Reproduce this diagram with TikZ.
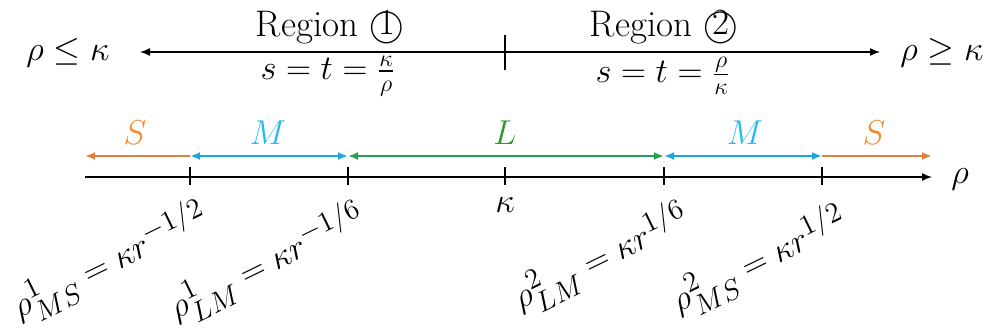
\documentclass[tikz,border=0pt]{standalone}
\usepackage{amsmath}
\usetikzlibrary{arrows.meta}
\definecolor{cS}{HTML}{E47E3C}
\definecolor{cSt}{HTML}{F28A2E}
\definecolor{cM}{HTML}{1BA5E4}
\definecolor{cMt}{HTML}{22BBEE}
\definecolor{cL}{HTML}{22A050}
\definecolor{cLt}{HTML}{2C9A2C}
\tikzset{
  tip/.style={-{Latex[length=5pt,width=4pt]}},
  twotip/.style={{Latex[length=5pt,width=4pt]}-{Latex[length=5pt,width=4pt]}},
  band/.style={line width=1pt},
  lbl/.style={font=\fontsize{18.5}{22}\selectfont, inner sep=1pt},
  flbl/.style={font=\fontsize{17.5}{21}\selectfont, inner sep=1pt},
  rlbl/.style={font=\fontsize{19}{23}\selectfont, inner sep=1pt, rotate=26, anchor=north east},
}
\begin{document}
\begin{tikzpicture}[x=0.5pt,y=-0.5pt]
\useasboundingbox (0,0) rectangle (997,333);
% top arrow
\coordinate (tl) at (140,52);
\coordinate (tr) at (880,52);
\coordinate (tmt) at (505,35);
\coordinate (tmb) at (505,70);
\draw[line width=0.7pt,tip] (505,52) -- (tl);
\draw[line width=0.7pt,tip] (505,52) -- (tr);
\draw[line width=0.7pt] (tmt) -- (tmb);
\node[lbl] (le) at (68,53) {$\rho \le \kappa$};
\node[lbl] (ge) at (942,53) {$\rho \ge \kappa$};
\node[lbl,anchor=base] (r1) at (330,36) {Region \textcircled{1}};
\node[lbl,anchor=base] (r2) at (664,36) {Region \textcircled{2}};
\node[flbl] (f1) at (328,76) {$s=t=\frac{\kappa}{\rho}$};
\node[flbl] (f2) at (663,76) {$s=t=\frac{\rho}{\kappa}$};
% axis
\coordinate (a0) at (85,177);
\coordinate (a1) at (932,177);
\draw[line width=0.7pt,tip] (a0) -- (a1);
\node[lbl] (rho) at (960,179) {$\rho$};
\foreach \n/\x in {t1/190,t2/348,t3/505,t4/664,t5/822}{
  \coordinate (\n) at (\x,177);
  \draw[line width=0.7pt] (\x,167) -- (\x,185);
}
% bands
\coordinate (b0) at (85,156);
\coordinate (b1) at (190,156);
\coordinate (b2) at (348,156);
\coordinate (b3) at (664,156);
\coordinate (b4) at (822,156);
\coordinate (b5) at (932,156);
\draw[band,cS,tip] (b1) -- (b0);
\draw[band,cM,twotip] (b1) -- (b2);
\draw[band,cL,twotip] (b2) -- (b3);
\draw[band,cM,twotip] (b3) -- (b4);
\draw[band,cS,tip] (b4) -- (b5);
\node[lbl,text=cSt] (sl) at (135,133) {$S$};
\node[lbl,text=cMt] (ml) at (268,133) {$M$};
\node[lbl,text=cLt] (ll) at (505,133) {$L$};
\node[lbl,text=cMt] (mr) at (745,133) {$M$};
\node[lbl,text=cSt] (sr) at (874,133) {$S$};
% tick labels
\node[lbl] (k) at (505,205) {$\kappa$};
\node[rlbl] (p1) at (197,191) {$\rho^1_{MS}=\kappa r^{-1/2}$};
\node[rlbl] (p2) at (354,192) {$\rho^1_{LM}=\kappa r^{-1/6}$};
\node[rlbl] (p3) at (678,192) {$\rho^2_{LM}=\kappa r^{1/6}$};
\node[rlbl] (p4) at (836,195) {$\rho^2_{MS}=\kappa r^{1/2}$};
\end{tikzpicture}
\end{document}
